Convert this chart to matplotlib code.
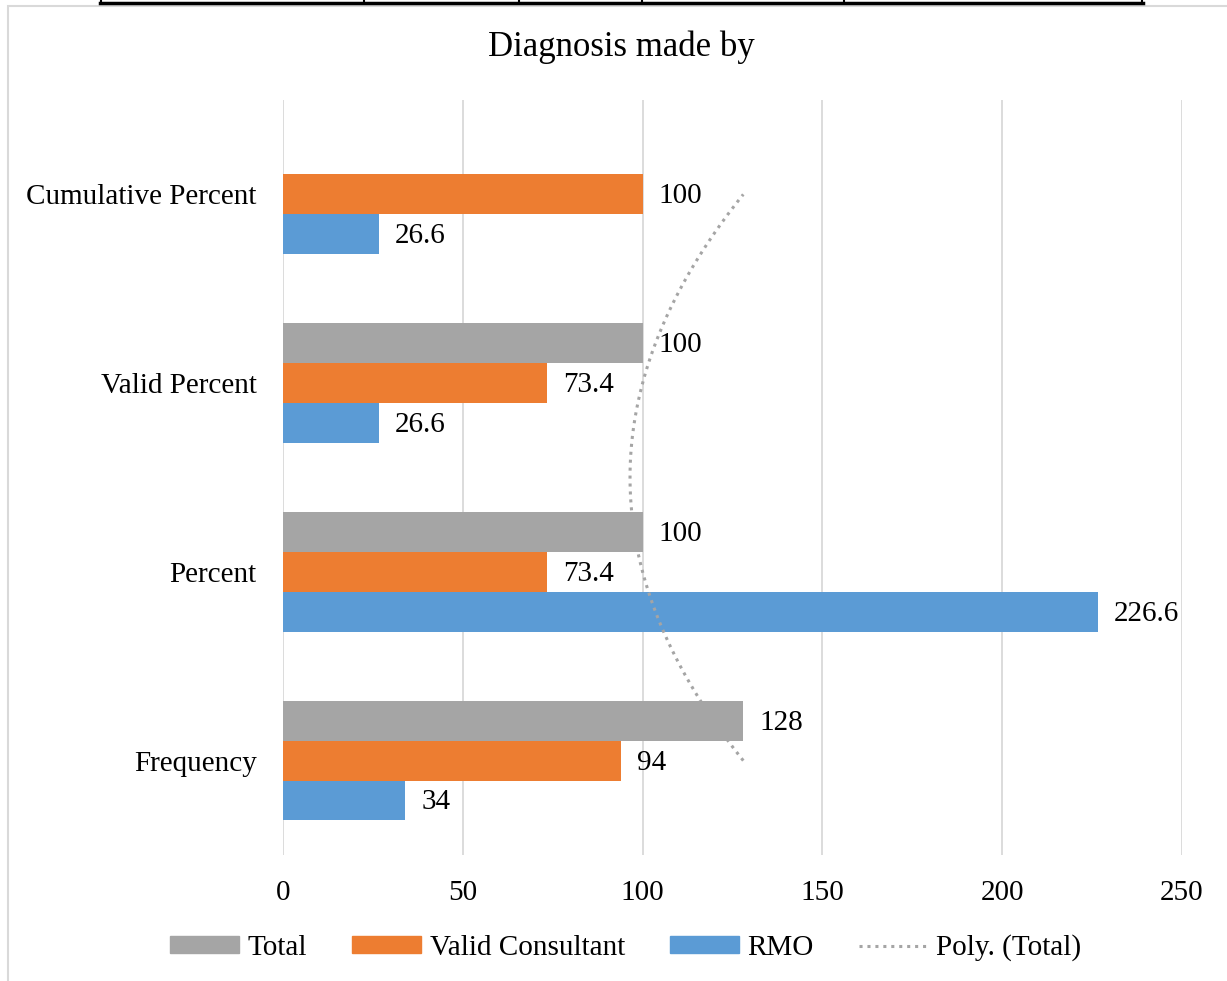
import numpy as np
import matplotlib.pyplot as plt
from matplotlib.patches import Rectangle
from matplotlib.lines import Line2D

plt.rcParams['font.family'] = ['Liberation Serif', 'DejaVu Serif']

# Data
categories = ['Frequency', 'Percent', 'Valid Percent', 'Cumulative Percent']
total = [128, 100, 100, np.nan]
valid_consultant = [94, 73.4, 73.4, 100]
rmo = [34, 226.6, 26.6, 26.6]

c_total = '#A5A5A5'
c_valid = '#ED7D31'
c_rmo = '#5B9BD5'

W, H = 1227, 981
fig = plt.figure(figsize=(W / 100, H / 100), dpi=100)
ax = fig.add_axes([283 / W, 1 - 855 / H, (1182 - 283) / W, (855 - 100) / H])

y = np.arange(len(categories))
h = 0.211
ax.barh(y + h, total, height=h, color=c_total, label='Total')
ax.barh(y, valid_consultant, height=h, color=c_valid, label='Valid Consultant')
ax.barh(y - h, rmo, height=h, color=c_rmo, label='RMO')

# value labels
for series, off in [(total, h), (valid_consultant, 0), (rmo, -h)]:
    for yi, v in zip(y, series):
        if np.isnan(v):
            continue
        ax.text(v + 4.4, yi + off - 0.01, f'{v:g}', va='center', ha='left', fontsize=21)

# polynomial trendline (order 2) on Total
mask = ~np.isnan(total)
coef = np.polyfit(y[mask], np.array(total)[mask], 2)
yy = np.linspace(0, 3, 200)
ax.plot(np.polyval(coef, yy), yy, color=c_total, linestyle=(0, (1, 1.6)),
        linewidth=2.2, label='Poly. (Total)')

ax.set_xlim(0, 250)
ax.set_ylim(-0.5, 3.5)
ax.set_xticks(range(0, 251, 50))
ax.set_yticks(y)
ax.set_yticklabels(categories)
ax.tick_params(axis='both', length=0, labelsize=21)
ax.tick_params(axis='x', pad=18)
ax.tick_params(axis='y', pad=19)
ax.grid(axis='x', color='#D9D9D9', linewidth=1.3)
ax.set_axisbelow(True)
for s in ax.spines.values():
    s.set_visible(False)

fig.text(621 / W, 1 - 47 / H, 'Diagnosis made by', ha='center', va='center', fontsize=25)

handles = [Rectangle((0, 0), 1, 1, color=c_total),
           Rectangle((0, 0), 1, 1, color=c_valid),
           Rectangle((0, 0), 1, 1, color=c_rmo),
           Line2D([0], [0], color=c_total, linestyle=(0, (1, 1.6)), linewidth=2.2)]
labels = ['Total', 'Valid Consultant', 'RMO', 'Poly. (Total)']
fig.legend(handles, labels, loc='center', bbox_to_anchor=(626 / W, 1 - 948 / H), ncol=4,
           frameon=False, fontsize=21, handlelength=2.35, handleheight=0.5,
           handletextpad=0.3, columnspacing=1.55)

# chart frame and the table edge above it
fig.patches.append(Rectangle((8 / W, -0.1), 1.1, 1 - 6 / H + 0.1, transform=fig.transFigure,
                             fill=False, edgecolor='#D9D9D9', linewidth=1.5))
fig.add_artist(Line2D([100 / W, 1143 / W], [1 - 3 / H, 1 - 3 / H], transform=fig.transFigure,
                      color='black', linewidth=2.5))
for xp in [101, 364, 519, 642, 844, 1142]:
    fig.add_artist(Line2D([xp / W, xp / W], [1 - 3 / H, 1.0], transform=fig.transFigure,
                          color='black', linewidth=1.5))

fig.savefig('out.png', dpi=100)
